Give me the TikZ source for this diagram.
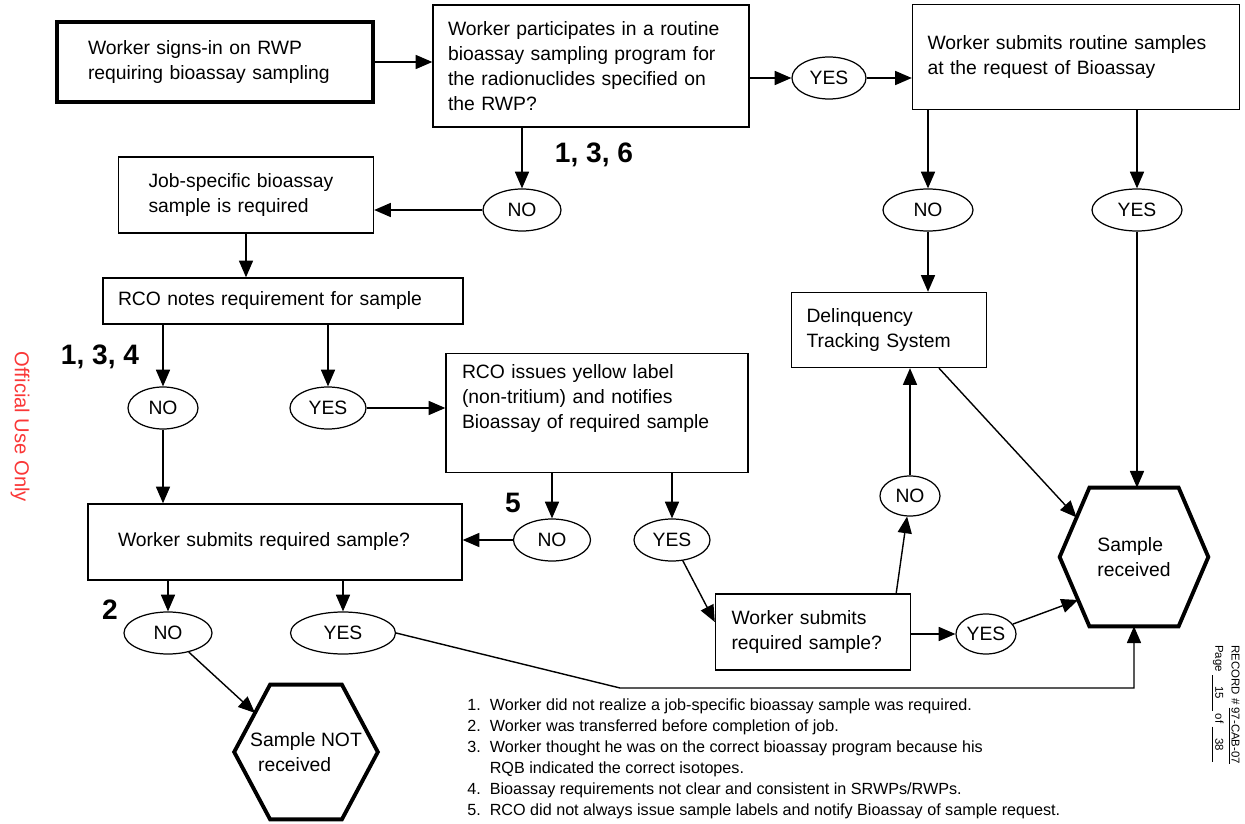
\documentclass[tikz,border=0pt]{standalone}
\usepackage{fontspec}
\setmainfont{Liberation Sans}
\usetikzlibrary{arrows.meta,calc,shapes.geometric}

\definecolor{stampred}{RGB}{250,55,55}

\tikzset{
  box/.style={draw, line width=0.8pt, rectangle, align=left, inner sep=0pt,
    font=\fontsize{11}{14.2}\selectfont},
  startbox/.style={box, line width=2.2pt},
  choice/.style={draw, ellipse, line width=0.7pt, inner sep=0pt,
    minimum height=0.84cm, font=\fontsize{11}{13}\selectfont},
  hexbox/.style={rectangle, inner sep=0pt, align=left,
    font=\fontsize{11}{14.2}\selectfont},
  hexline/.style={line width=2.2pt, line join=miter},
  arr/.style={-{Triangle[length=9.5pt,width=8pt]}, line width=0.8pt},
  num/.style={inner sep=0pt, font=\fontsize{16}{16}\selectfont\bfseries},
}

\begin{document}
\begin{tikzpicture}[x=0.02cm, y=-0.02cm]
\useasboundingbox (0,0) rectangle (1245,824);

% Boxes
\node[startbox, minimum width=6.32cm, minimum height=1.6cm, text width=5.08cm] (sign) at (215,62) {Worker signs-in on RWP\\requiring bioassay sampling};
\node[box, minimum width=6.32cm, minimum height=2.44cm, text width=5.72cm] (prog) at (591,66) {Worker participates in a routine\\bioassay sampling program for\\the radionuclides specified on\\the RWP?};
\node[box, minimum width=6.54cm, minimum height=2.1cm, text width=5.94cm] (routine) at (1076,57) {Worker submits routine samples\\at the request of Bioassay};
\node[box, minimum width=5.1cm, minimum height=1.52cm, text width=3.9cm] (job) at (246,195) {Job-specific bioassay\\sample is required};
\node[box, minimum width=7.2cm, minimum height=0.92cm, text width=6.6cm] (rconote) at (283,301) {RCO notes requirement for sample};
\node[box, minimum width=6.04cm, minimum height=2.38cm, text width=5.4cm] (rcoissue) at (597,413) {RCO issues yellow label\\(non-tritium) and notifies\\Bioassay of required sample\\ \strut};
\node[box, minimum width=7.48cm, minimum height=1.52cm, text width=6.28cm] (submit) at (275,542) {Worker submits required sample?};
\node[box, minimum width=3.9cm, minimum height=1.52cm, text width=3.26cm] (submit2) at (813,632) {Worker submits\\required sample?};
\node[box, minimum width=3.9cm, minimum height=1.5cm, text width=3.3cm] (delinq) at (889,330) {Delinquency\\Tracking System};

% Decisions
\node[choice, minimum width=1.48cm] (yes1) at (829,78) {YES};
\node[choice, minimum width=1.56cm] (no1) at (522,210) {NO};
\node[choice, minimum width=1.8cm] (no5) at (928,210) {NO};
\node[choice, minimum width=1.8cm] (yes5) at (1137,210) {YES};
\node[choice, minimum width=1.4cm] (no2) at (163,408) {NO};
\node[choice, minimum width=1.52cm] (yes2) at (328,408) {YES};
\node[choice, minimum width=1.54cm] (no3) at (552,540) {NO};
\node[choice, minimum width=1.52cm] (yes3) at (672,540) {YES};
\node[choice, minimum width=1.2cm, minimum height=0.8cm] (no4) at (910,496) {NO};
\node[choice, minimum width=1.2cm, minimum height=0.8cm] (yes4) at (986,634) {YES};
\node[choice, minimum width=1.76cm] (no6) at (168,633) {NO};
\node[choice, minimum width=2.1cm] (yes6) at (343,633) {YES};

% Outcomes
\node[hexbox, minimum width=2.96cm, minimum height=2.76cm] (rcv) at (1134,557) {Sample\\received};
\coordinate (rcvnw) at ($(rcv.north west)!0.2!(rcv.north east)$);
\coordinate (rcvne) at ($(rcv.north west)!0.8!(rcv.north east)$);
\coordinate (rcvse) at ($(rcv.south west)!0.8!(rcv.south east)$);
\coordinate (rcvsw) at ($(rcv.south west)!0.2!(rcv.south east)$);
\draw[hexline] (rcv.west) -- (rcvnw) -- (rcvne) -- (rcv.east) -- (rcvse) -- (rcvsw) -- cycle;
\coordinate (rcvin1) at ($(rcv.west)!0.57!(rcvnw)$);
\coordinate (rcvin2) at ($(rcv.west)!0.62!(rcvsw)$);

\node[hexbox, minimum width=2.86cm, minimum height=2.68cm] (norcv) at (306,752) {Sample NOT\\\hspace*{0.16cm}received};
\coordinate (norcvnw) at ($(norcv.north west)!0.25!(norcv.north east)$);
\coordinate (norcvne) at ($(norcv.north west)!0.75!(norcv.north east)$);
\coordinate (norcvse) at ($(norcv.south west)!0.75!(norcv.south east)$);
\coordinate (norcvsw) at ($(norcv.south west)!0.25!(norcv.south east)$);
\draw[hexline] (norcv.west) -- (norcvnw) -- (norcvne) -- (norcv.east) -- (norcvse) -- (norcvsw) -- cycle;
\coordinate (norcvin) at ($(norcv.west)!0.58!(norcvnw)$);

\coordinate (bend) at (620,688);

% Flow
\draw[arr] (sign) -- (sign -| prog.west);
\draw[arr] (prog.east |- yes1) -- (yes1);
\draw[arr] (yes1) -- (yes1 -| routine.west);
\draw[arr] (prog.south -| no1) -- (no1);
\draw[arr] (no1) -- (no1 -| job.east);
\draw[arr] (job.south) -- (job.south |- rconote.north);
\draw[arr] (rconote.south -| no2) -- (no2);
\draw[arr] (rconote.south -| yes2) -- (yes2);
\draw[arr] (yes2) -- (yes2 -| rcoissue.west);
\draw[arr] (no2) -- (no2 |- submit.north);
\draw[arr] (rcoissue.south -| no3) -- (no3);
\draw[arr] (rcoissue.south -| yes3) -- (yes3);
\draw[arr] (no3) -- (no3 -| submit.east);
\draw[arr] (yes3) -- ([yshift=0.2cm]submit2.west);
\draw[arr] ([xshift=-0.3cm]submit2.north east) -- (no4);
\draw[arr] (no4) -- (no4 |- delinq.south);
\draw[arr] (submit2.east |- yes4) -- (yes4);
\draw[arr] (yes4) -- (rcvin2);
\draw[arr] (routine.south -| no5) -- (no5);
\draw[arr] (routine.south -| yes5) -- (yes5);
\draw[arr] (no5) -- (no5 |- delinq.north);
\draw[arr] ([xshift=1cm]delinq.south) -- (rcvin1);
\draw[arr] (yes5) -- (yes5 |- rcv.north);
\draw[arr] (submit.south -| no6) -- (no6);
\draw[arr] (submit.south -| yes6) -- (yes6);
\draw[arr] (no6) -- (norcvin);
\draw[arr] (yes6.east) -- (bend) -| (rcv.south);

% Note numbers
\node[num] (n136) at (594,155) {1, 3, 6};
\node[num] (n134) at (100,357) {1, 3, 4};
\node[num] (n5) at (513,503) {5};
\node[num] (n2) at (110,610) {2};

% Notes
\node[anchor=north west, inner sep=0pt, font=\fontsize{9.2}{12}\selectfont] (notes) at (467,695) {%
\begin{tabular}{@{}l@{\ \ }l@{}}
1. & Worker did not realize a job-specific bioassay sample was required.\\
2. & Worker was transferred before completion of job.\\
3. & Worker thought he was on the correct bioassay program because his\\
   & RQB indicated the correct isotopes.\\
4. & Bioassay requirements not clear and consistent in SRWPs/RWPs.\\
5. & RCO did not always issue sample labels and notify Bioassay of sample request.
\end{tabular}};

% Margins
\node[rotate=-90, text=stampred, font=\fontsize{11.5}{12}\selectfont] (official) at (20,427) {Official Use Only};
\node[rotate=-90, anchor=north west, inner sep=0pt, font=\fontsize{6.5}{7}\selectfont] (record) at (1240,645) {RECORD \# \underline{97-CAB-07}};
\node[rotate=-90, anchor=north west, inner sep=0pt, font=\fontsize{6.5}{7}\selectfont] (page) at (1224,645) {Page \underline{\quad 15\quad} of \underline{\quad 38\quad}};
\end{tikzpicture}
\end{document}
